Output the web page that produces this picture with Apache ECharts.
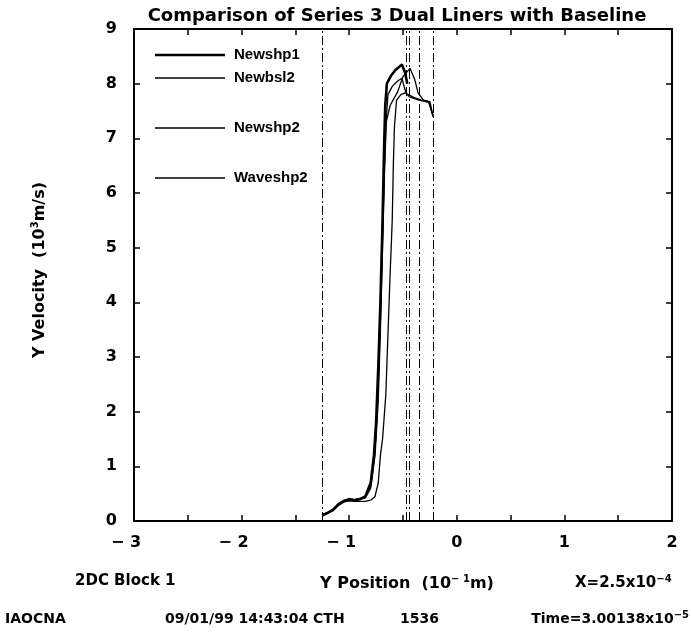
<!DOCTYPE html>
<html>
<head>
<meta charset="utf-8">
<script src="https://cdn.jsdelivr.net/npm/echarts@6/dist/echarts.min.js"></script>
<style>html,body{margin:0;padding:0;background:#fff}#c{width:691px;height:640px}</style>
</head>
<body>
<div id="c"></div>
<script>
var seriesNames = ['Newshp1', 'Newbsl2', 'Newshp2', 'Waveshp2'];
var newshp1 = [[-1.25,0.1],[-1.2,0.15],[-1.15,0.2],[-1.1,0.3],[-1.05,0.36],[-1.0,0.4],[-0.95,0.38],[-0.9,0.4],[-0.85,0.45],[-0.8,0.7],[-0.77,1.2],[-0.75,1.8],[-0.73,2.8],[-0.71,4.0],[-0.69,5.5],[-0.675,6.9],[-0.665,7.6],[-0.65,8.0],[-0.61,8.15],[-0.57,8.25],[-0.51,8.35],[-0.48,8.2],[-0.46,8.0]];
var newbsl2 = [[-1.25,0.12],[-1.2,0.16],[-1.15,0.22],[-1.1,0.32],[-1.05,0.38],[-1.0,0.4],[-0.95,0.39],[-0.9,0.41],[-0.85,0.44],[-0.8,0.65],[-0.76,1.3],[-0.74,2.0],[-0.72,3.2],[-0.70,4.5],[-0.68,6.0],[-0.66,7.2],[-0.64,7.8],[-0.6,7.95],[-0.55,8.05],[-0.51,8.1],[-0.49,7.95],[-0.47,7.82],[-0.44,7.76],[-0.35,7.7],[-0.26,7.66],[-0.22,7.4]];
var newshp2 = [[-1.25,0.11],[-1.2,0.15],[-1.15,0.21],[-1.1,0.31],[-1.05,0.37],[-1.0,0.39],[-0.95,0.38],[-0.9,0.4],[-0.85,0.42],[-0.8,0.6],[-0.76,1.2],[-0.73,2.2],[-0.71,3.5],[-0.69,5.0],[-0.67,6.5],[-0.655,7.3],[-0.62,7.6],[-0.55,7.85],[-0.5,8.13],[-0.435,8.28],[-0.39,8.07],[-0.36,7.83],[-0.31,7.7],[-0.25,7.67],[-0.22,7.4]];
var waveshp2 = [[-1.25,0.12],[-1.2,0.15],[-1.15,0.2],[-1.1,0.3],[-1.05,0.35],[-1.0,0.37],[-0.95,0.36],[-0.9,0.36],[-0.85,0.36],[-0.8,0.38],[-0.76,0.45],[-0.73,0.7],[-0.71,1.2],[-0.69,1.5],[-0.66,2.3],[-0.64,3.4],[-0.62,4.5],[-0.6,5.5],[-0.59,6.5],[-0.58,7.2],[-0.56,7.7],[-0.52,7.8],[-0.48,7.83],[-0.4,7.75],[-0.33,7.7],[-0.26,7.67],[-0.22,7.4]];
var markerX = [-1.25, -0.47, -0.44, -0.35, -0.22];
var xTicks = [-3, -2, -1, 0, 1, 2];
var yTicks = [0, 1, 2, 3, 4, 5, 6, 7, 8, 9];

var FONT = 'DejaVu Sans';
var LFONT = 'Liberation Sans';
var chart = echarts.init(document.getElementById('c'), null, {renderer: 'canvas'});
var widths = [2.6, 1.3, 1.3, 1.3];
var legendY = [50, 73, 123, 173];
var dataArr = [newshp1, newbsl2, newshp2, waveshp2];

var series = seriesNames.map(function (n, i) {
  return {
    name: n, type: 'line', data: dataArr[i], showSymbol: false, symbol: 'none',
    lineStyle: {color: '#000', width: widths[i]}, itemStyle: {color: '#000'},
    animation: false, z: 3
  };
});
series.push({
  name: 'markers', type: 'line', data: [], animation: false,
  markLine: {
    silent: true, symbol: 'none', label: {show: false},
    lineStyle: {color: '#000', width: 1, type: [9, 3, 2, 3]},
    data: markerX.map(function (v) { return {xAxis: v}; })
  }
});

var legends = seriesNames.map(function (n, i) {
  return {
    data: [n], left: 150, top: legendY[i] - 9, icon: 'rect',
    itemWidth: 70, itemHeight: i === 0 ? 2.6 : 1.5, itemGap: 0,
    itemStyle: {color: '#000'},
    textStyle: {fontFamily: LFONT, fontSize: 15, fontWeight: 'bold', color: '#000', padding: [0, 0, 0, 4], lineHeight: 18},
    selectedMode: false
  };
});

function xFmt(v) {
  if (Math.abs(v - Math.round(v)) > 1e-6) return '';
  var r = Math.round(v);
  if (xTicks.indexOf(r) < 0) return '';
  if (r < 0) return '{m|\u2212 }' + Math.abs(r) + '{p|}';
  return String(r);
}

var axisCommon = {
  axisLine: {show: true, onZero: false, lineStyle: {color: '#000', width: 2}},
  axisTick: {show: true, inside: true, length: 6, lineStyle: {color: '#000', width: 1.5}},
  splitLine: {show: false}
};

function supText(base, sup, tail) {
  return base + '{s|' + sup + '}' + (tail || '');
}
var txtStyle = function (text, size) {
  return {
    text: text, fontFamily: FONT, fontWeight: 'bold', fontSize: size || 15, fill: '#000',
    rich: {s: {fontFamily: FONT, fontWeight: 'bold', fontSize: 10, padding: [0, 0, 9, 0]}}
  };
};

var option = {
  backgroundColor: '#fff',
  animation: false,
  title: {
    text: 'Comparison of Series 3 Dual Liners with Baseline',
    left: 392, top: 2, textAlign: 'center',
    textStyle: {fontFamily: FONT, fontSize: 18, fontWeight: 'bold', color: '#000'}
  },
  legend: legends,
  grid: {left: 134, right: 19, top: 29, bottom: 119, show: false},
  xAxis: [Object.assign({
    type: 'value', min: -3, max: 2, interval: 0.5, position: 'bottom',
    axisLabel: {
      formatter: xFmt, margin: 14, color: '#000', fontFamily: FONT, fontSize: 16, fontWeight: 'bold',
      rich: {m: {fontFamily: FONT, fontSize: 16, fontWeight: 'bold'}, p: {width: 16}}
    }
  }, axisCommon), Object.assign({
    type: 'value', min: -3, max: 2, interval: 0.5, position: 'top',
    axisLabel: {show: false}
  }, axisCommon)],
  yAxis: [Object.assign({
    type: 'value', min: 0, max: 9, interval: 1, position: 'left',
    axisLabel: {
      formatter: function (v) { return yTicks.indexOf(v) >= 0 ? String(v) : ''; },
      margin: 17, color: '#000', fontFamily: FONT, fontSize: 16, fontWeight: 'bold'
    }
  }, axisCommon), Object.assign({
    type: 'value', min: 0, max: 9, interval: 1, position: 'right',
    axisLabel: {show: false}
  }, axisCommon)],
  graphic: [
    {type: 'text', left: 30, top: 182, rotation: Math.PI / 2, style: txtStyle(supText('Y Velocity  (10', '3', 'm/s)'), 16)},
    {type: 'text', left: 320, top: 574, style: txtStyle(supText('Y Position  (10', '\u2212 1', 'm)'), 16)},
    {type: 'text', left: 75, top: 574, style: txtStyle('2DC Block 1', 15)},
    {type: 'text', left: 575, top: 574, style: txtStyle(supText('X=2.5x10', '\u22124'), 15)},
    {type: 'text', left: 5, top: 612, style: txtStyle('IAOCNA', 14)},
    {type: 'text', left: 165, top: 612, style: txtStyle('09/01/99 14:43:04 CTH', 14)},
    {type: 'text', left: 400, top: 612, style: txtStyle('1536', 14)},
    {type: 'text', right: 2, top: 610, style: txtStyle(supText('Time=3.00138x10', '\u22125'), 14)}
  ],
  series: series
};
chart.setOption(option);
</script>
</body>
</html>
